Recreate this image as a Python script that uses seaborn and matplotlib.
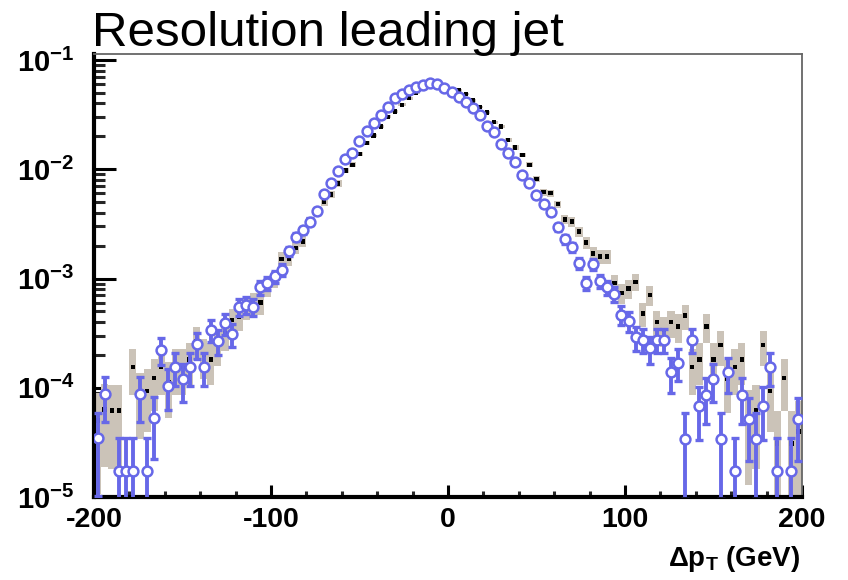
import numpy as np
import pandas as pd
import matplotlib
matplotlib.use("Agg")
import matplotlib.pyplot as plt
from matplotlib.ticker import MultipleLocator, LogLocator, NullFormatter, FixedLocator, FixedFormatter
import seaborn as sns

# ---------------- data ----------------
bin_edges = list(range(-200, 201, 4))           # 4 GeV bins
bin_centers = [(a + b) / 2 for a, b in zip(bin_edges[:-1], bin_edges[1:])]

nan = float("nan")
# log10 of the bin content, blue open circles
blue_log10 = [
    -4.46, -4.06, nan, -4.76, -4.76, -4.76, -4.06, -4.76, -4.28, -3.65,
    -3.98, -3.81, -3.92, -3.81, -3.60, -3.81, -3.47, -3.57, -3.41, -3.51,
    -3.26, -3.24, -3.26, -3.08, -3.04, -2.98, -2.92, -2.75, -2.62, -2.56,
    -2.48, -2.38, -2.23, -2.13, -2.02, -1.91, -1.85, -1.74, -1.65, -1.58,
    -1.50, -1.43, -1.35, -1.31, -1.275, -1.25, -1.23, -1.21, -1.22, -1.26,
    -1.29, -1.34, -1.38, -1.44, -1.50, -1.60, -1.66, -1.77, -1.85, -1.93,
    -2.05, -2.13, -2.24, -2.32, -2.39, -2.53, -2.64, -2.71, -2.86, -3.04,
    -2.87, -3.02, -3.08, -3.14, -3.33, -3.39, -3.54, -3.56, -3.64, -3.56,
    -3.56, -3.86, -3.77, -4.47, -3.56, -4.17, -4.07, -3.92, -4.47, -3.86,
    -4.76, -4.07, -4.29, -4.47, -4.17, -3.81, -4.76, nan, -4.76, -4.29,
]
# log10 of the bin content, black points with grey error boxes
black_log10 = [
    -4.30, -4.20, -4.21, -4.21, nan, -3.81, -4.07, -4.03, -3.91, -3.81,
    -3.95, -3.81, -3.81, -3.74, -3.57, -3.70, -3.74, -3.61, -3.50, -3.38,
    -3.35, -3.26, -3.22, -3.22, -3.08, -3.00, -2.82, -2.82, -2.72, -2.66,
    -2.48, -2.39, -2.30, -2.23, -2.13, -2.01, -1.96, -1.86, -1.76, -1.69,
    -1.61, -1.52, -1.47, -1.41, -1.35, -1.30, -1.26, -1.235, -1.23, -1.245,
    -1.27, -1.28, -1.31, -1.37, -1.43, -1.48, -1.57, -1.61, -1.73, -1.80,
    -1.87, -1.96, -2.09, -2.21, -2.22, -2.32, -2.46, -2.48, -2.57, -2.67,
    -2.77, -2.80, -2.80, -3.04, -3.13, -3.09, -3.03, -3.32, -3.15, -3.40,
    -3.47, -3.40, -3.44, -3.34, -3.81, -3.74, -3.44, -3.74, -3.61, -3.92,
    -3.81, -3.74, -4.27, -4.21, -3.61, -4.03, -4.51, -3.91, -4.51, -4.40,
]
# weight of a single entry (sets the Poisson error size)
blue_unit = 1.74e-5
black_unit = 3.1e-5

y_ticks = [1e-5, 1e-4, 1e-3, 1e-2, 1e-1]
y_ticklabels = [r"$\mathbf{10^{-5}}$", r"$\mathbf{10^{-4}}$", r"$\mathbf{10^{-3}}$",
                r"$\mathbf{10^{-2}}$", r"$\mathbf{10^{-1}}$"]
x_ticks = [-200, -100, 0, 100, 200]
x_ticklabels = ["-200", "-100", "0", "100", "200"]

# ---------------- style ----------------
sns.set_theme(style="white")
plt.rcParams["font.family"] = ["Liberation Sans", "DejaVu Sans"]
plt.rcParams["mathtext.fontset"] = "custom"
plt.rcParams["mathtext.rm"] = "Liberation Sans"
plt.rcParams["mathtext.bf"] = "Liberation Sans:bold"
plt.rcParams["mathtext.it"] = "Liberation Sans:italic"
plt.rcParams["axes.unicode_minus"] = False

BLUE = "#6768e8"
GREY = "#cbc3b8"

blue = pd.DataFrame({"x": bin_centers, "v": 10 ** np.array(blue_log10)}).dropna()
black = pd.DataFrame({"x": bin_centers, "v": 10 ** np.array(black_log10)}).dropna()
blue["err"] = np.sqrt(blue["v"] * blue_unit)
black["err"] = np.sqrt(black["v"] * black_unit)

fig = plt.figure(figsize=(8.48, 5.8), dpi=100)
ax = fig.add_axes([94 / 848, 1 - 497 / 580, (802 - 94) / 848, (497 - 54) / 580])

# grey error boxes
lo_b = np.maximum(black["v"] - black["err"], 1e-7)
hi_b = black["v"] + black["err"]
ax.bar(black["x"], hi_b - lo_b, bottom=lo_b, width=4, color=GREY, linewidth=0, zorder=1)
# black markers
sns.scatterplot(data=black, x="x", y="v", marker="s", s=10, color="black",
                edgecolor="none", ax=ax, zorder=2, legend=False)
# blue error bars
lo_err = np.minimum(blue["err"], blue["v"] - 1e-7)
ax.errorbar(blue["x"], blue["v"], yerr=[lo_err, blue["err"]], fmt="none",
            ecolor=BLUE, elinewidth=2.8, capsize=3.0, capthick=2.4, zorder=3)
sns.scatterplot(data=blue, x="x", y="v", marker="o", s=50, facecolor="white",
                edgecolor=BLUE, linewidth=1.8, ax=ax, zorder=4, legend=False)

ax.set_yscale("log")
ax.set_xlim(-200, 200)
ax.set_ylim(1e-5, 10 ** -0.945)
ax.set_xlabel("")
ax.set_ylabel("")

ax.yaxis.set_major_locator(FixedLocator(y_ticks))
ax.yaxis.set_major_formatter(FixedFormatter(y_ticklabels))
ax.yaxis.set_minor_locator(LogLocator(base=10, subs=np.arange(2, 10)))
ax.yaxis.set_minor_formatter(NullFormatter())
ax.xaxis.set_major_locator(FixedLocator(x_ticks))
ax.xaxis.set_major_formatter(FixedFormatter(x_ticklabels))
ax.xaxis.set_minor_locator(MultipleLocator(20))

ax.tick_params(axis="y", which="major", direction="in", length=16, width=2.2,
               left=True, right=False, pad=14, labelsize=21, colors="black")
ax.tick_params(axis="y", which="minor", direction="in", length=8, width=2.2,
               left=True, right=False)
ax.tick_params(axis="x", which="major", direction="in", length=9, width=2.2,
               bottom=True, top=False, pad=7, labelsize=20.5, colors="black")
ax.tick_params(axis="x", which="minor", direction="in", length=4.5, width=2.2,
               bottom=True, top=False)
for lab in ax.get_xticklabels():
    lab.set_fontweight("bold")

for s in ["left", "bottom"]:
    ax.spines[s].set_linewidth(3)
    ax.spines[s].set_color("black")
for s in ["top", "right"]:
    ax.spines[s].set_linewidth(1.3)
    ax.spines[s].set_color("#666666")

fig.text(92 / 848, 1 - 46 / 580, "Resolution leading jet", fontsize=35.5,
         ha="left", va="baseline", color="black")
fig.text(800 / 848, 1 - 566 / 580, r"Δp$_\mathbf{T}$ (GeV)", fontsize=20,
         fontweight="bold", ha="right", va="baseline", color="black")

fig.savefig("out.png", dpi=100)
